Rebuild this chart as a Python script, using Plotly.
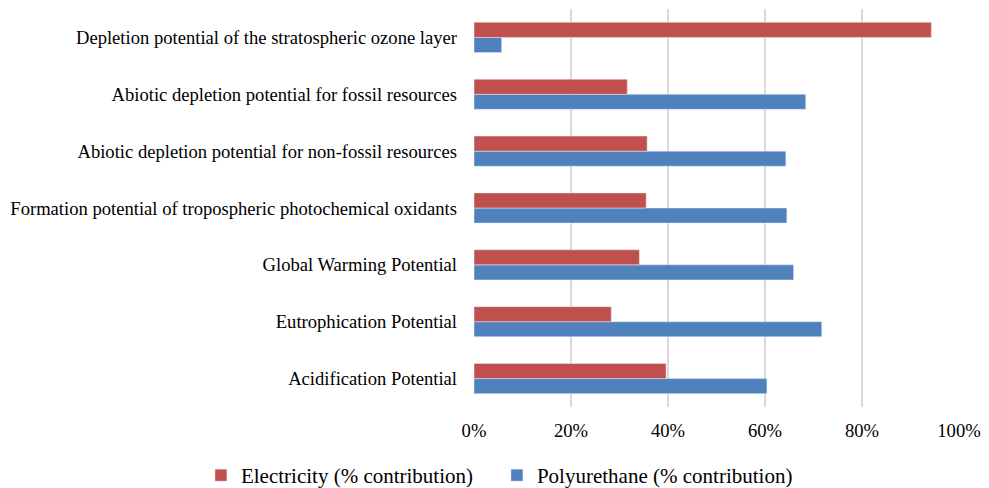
import plotly.graph_objects as go

categories = [
    "Acidification Potential",
    "Eutrophication Potential",
    "Global Warming Potential",
    "Formation potential of tropospheric photochemical oxidants",
    "Abiotic depletion potential for non-fossil resources",
    "Abiotic depletion potential for fossil resources",
    "Depletion potential of the stratospheric ozone layer",
]
electricity = [0.396, 0.283, 0.341, 0.355, 0.357, 0.316, 0.943]
polyurethane = [0.604, 0.717, 0.659, 0.645, 0.643, 0.684, 0.057]

fig = go.Figure()
fig.add_trace(go.Bar(
    y=categories, x=polyurethane, orientation="h",
    name="Polyurethane (% contribution)", marker_color="#4f81bd",
    legendrank=2,
))
fig.add_trace(go.Bar(
    y=categories, x=electricity, orientation="h",
    name="Electricity (% contribution)", marker_color="#c0504d",
    legendrank=1,
))

fig.update_layout(
    width=989, height=488,
    margin=dict(l=466, r=38, t=1, b=88),
    barmode="group", bargap=0.47, bargroupgap=0,
    plot_bgcolor="white", paper_bgcolor="white",
    font=dict(family="Liberation Serif", size=18.6, color="black"),
    legend=dict(
        orientation="h", x=-0.563, xanchor="left",
        y=-0.17, yanchor="middle",
        font=dict(size=21), tracegroupgap=0,
        entrywidth=251, entrywidthmode="pixels",
    ),
    xaxis=dict(
        range=[0, 1], tickvals=[0, 0.2, 0.4, 0.6, 0.8, 1.0], tickformat=".0%",
        showgrid=True, gridcolor="#d9d9d9", gridwidth=2,
        zeroline=False, showline=False, ticks="", automargin=False,
        ticklabelstandoff=10,
    ),
    yaxis=dict(
        showgrid=False, ticks="", ticklabelstandoff=16, showline=False,
        automargin=False,
    ),
)

fig.write_html("out.html")
